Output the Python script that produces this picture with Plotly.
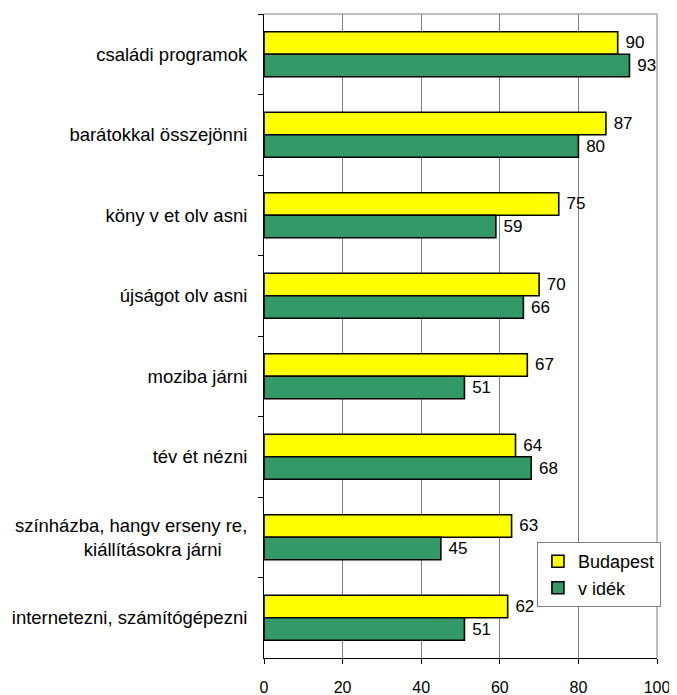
import plotly.graph_objects as go

categories = [
    "családi programok",
    "barátokkal összejönni",
    "köny v et olv asni",
    "újságot olv asni",
    "moziba járni",
    "tév ét nézni",
    "színházba, hangv erseny re,<br>kiállításokra járni\u00a0\u00a0\u00a0\u00a0\u00a0",
    "internetezni, számítógépezni",
]
budapest = [90, 87, 75, 70, 67, 64, 63, 62]
videk = [93, 80, 59, 66, 51, 68, 45, 51]
series_names = ["Budapest", "v idék"]
x_ticks = [0, 20, 40, 60, 80, 100]

FONT = "Liberation Sans, Arial, sans-serif"

fig = go.Figure()
fig.add_trace(go.Bar(
    y=categories, x=budapest, orientation="h", name=series_names[0],
    marker=dict(color="#FFFF00", line=dict(color="black", width=1.6)),
    text=budapest, texttemplate="\u00a0%{x}", textposition="outside",
    textfont=dict(family=FONT, size=17, color="black"), cliponaxis=False,
))
fig.add_trace(go.Bar(
    y=categories, x=videk, orientation="h", name=series_names[1],
    marker=dict(color="#339966", line=dict(color="black", width=1.6)),
    text=videk, texttemplate="\u00a0%{x}", textposition="outside",
    textfont=dict(family=FONT, size=17, color="black"), cliponaxis=False,
))

# the page body has an 8px margin, so the figure is sized to fit the window
fig.update_layout(
    width=669, height=687,
    margin=dict(l=256, r=20, t=6, b=37, autoexpand=False),
    paper_bgcolor="white", plot_bgcolor="white",
    barmode="group", bargap=0.44, bargroupgap=0,
    font=dict(family=FONT, size=16, color="black"),
    showlegend=True,
    legend=dict(
        x=1.01, y=0.18, xanchor="right", yanchor="top",
        bgcolor="white", bordercolor="#808080", borderwidth=1,
        font=dict(family=FONT, size=18, color="black"),
        traceorder="normal", itemwidth=30, tracegroupgap=4,
    ),
    xaxis=dict(
        range=[0, 100], tickvals=x_ticks, showgrid=True, gridcolor="#808080", gridwidth=1,
        showline=True, linecolor="black", linewidth=1, zeroline=False,
        ticks="outside", ticklen=5, tickcolor="black", automargin=False,
        tickfont=dict(family=FONT, size=16, color="black"), ticklabelstandoff=10,
    ),
    yaxis=dict(
        autorange="reversed", showline=True, linecolor="black", linewidth=1,
        ticks="outside", ticklen=5, tickcolor="black", tickson="boundaries",
        showgrid=False, tickfont=dict(family=FONT, size=18.5, color="black"),
        ticklabelstandoff=12, automargin=False,
    ),
    shapes=[
        dict(type="line", xref="paper", yref="paper", x0=0, x1=1, y0=1, y1=1,
             line=dict(color="#808080", width=1)),
        dict(type="line", xref="paper", yref="paper", x0=1, x1=1, y0=0, y1=1,
             line=dict(color="#808080", width=1)),
    ],
)

fig.write_html("out.html")
